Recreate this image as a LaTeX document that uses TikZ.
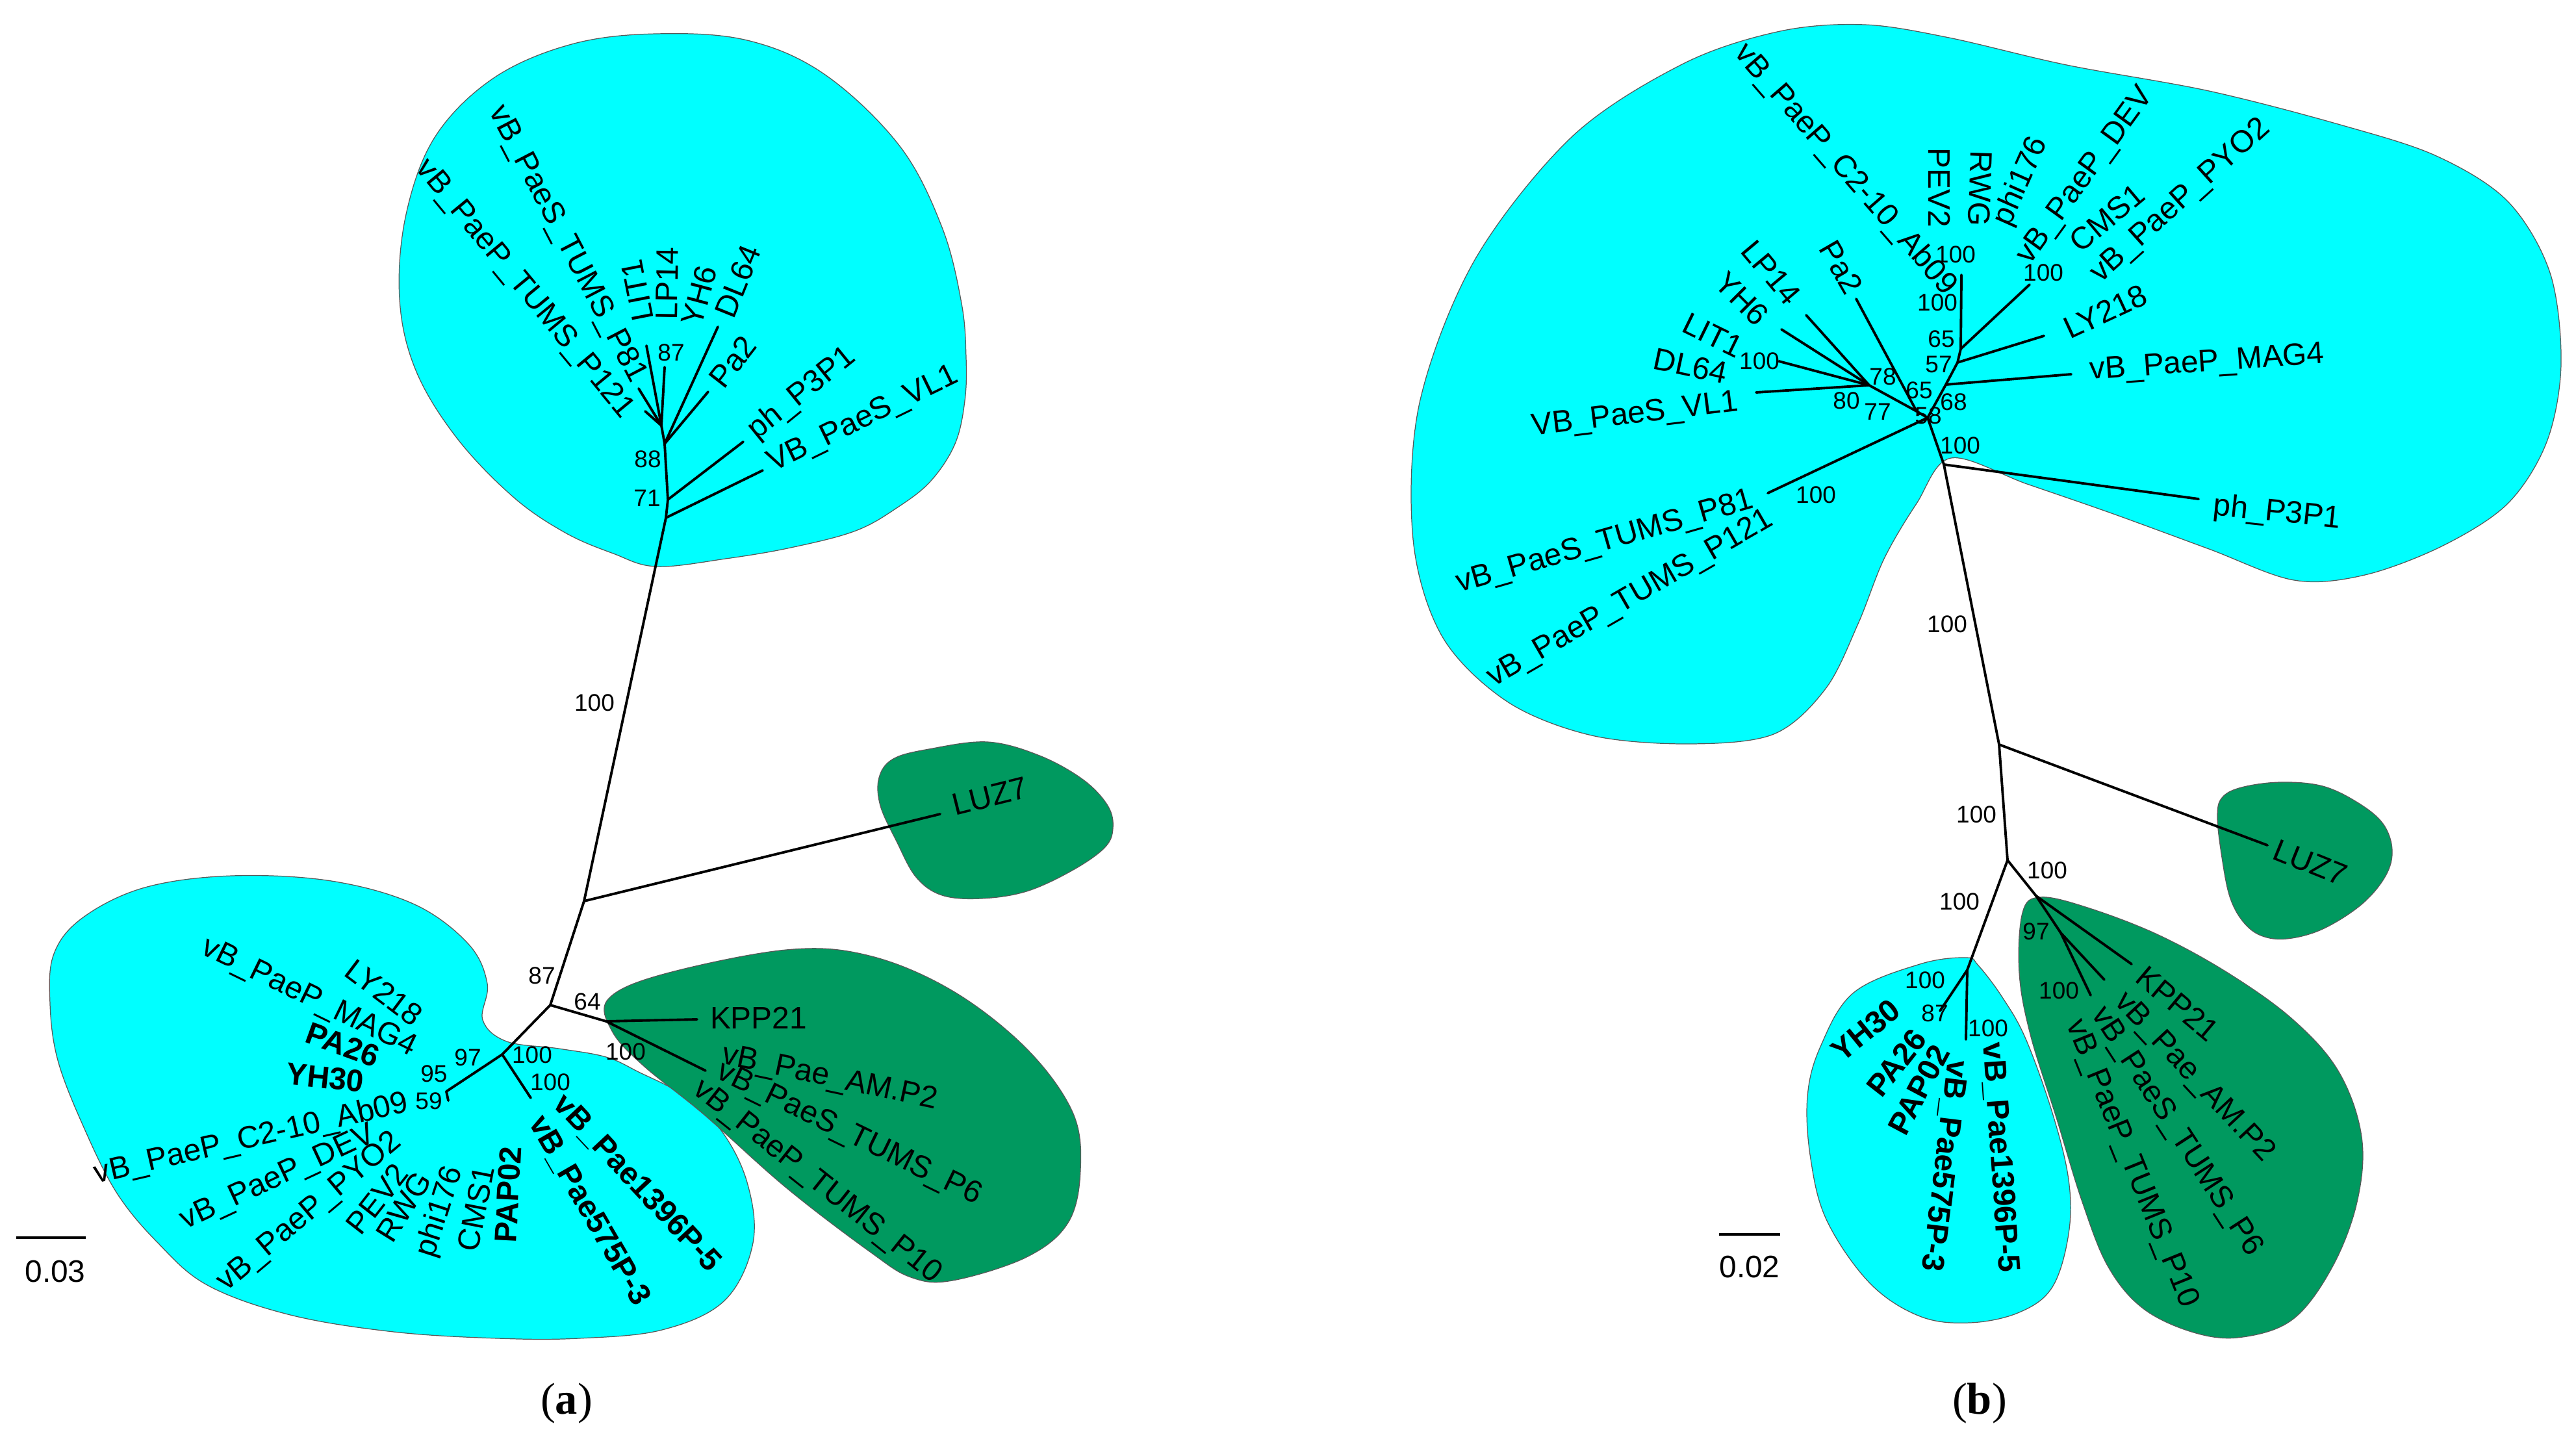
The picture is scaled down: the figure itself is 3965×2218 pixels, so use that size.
\documentclass[tikz,border=0pt]{standalone}
\usepackage{fontspec}
\setmainfont{Liberation Sans}
\newfontfamily\capfont{Liberation Serif}
\definecolor{cyanc}{RGB}{0,255,255}
\definecolor{greenc}{RGB}{0,153,95}
\begin{document}
\begin{tikzpicture}[x=0.01cm,y=-0.01cm,
 br/.style={line width=1.1pt, line cap=round, line join=round},
 lab/.style={font=\fontsize{13.6}{16}\selectfont, inner sep=0pt, outer sep=0pt},
 blab/.style={font=\fontsize{13.6}{16}\selectfont\bfseries, inner sep=0pt, outer sep=0pt},
 bs/.style={font=\fontsize{10.5}{12}\selectfont, inner sep=0pt},
 cblob/.style={fill=cyanc, draw=black!65, line width=0.35pt},
 gblob/.style={fill=greenc, draw=black!65, line width=0.35pt},
 sbar/.style={line width=1.1pt},
 capstyle/.style={font=\capfont\fontsize{19.5}{22}\selectfont, inner sep=0pt}]

\fill[white] (0,0) rectangle (3965,2218);
\useasboundingbox (0,0) rectangle (3965,2218);

% ================= PANEL (a) blobs =================
\draw[cblob] plot[smooth cycle, tension=0.6] coordinates {(1010,872) (944,852) (870,820) (790,765) (703,674) (640,570) (615,460) (625,330) (670,210) (760,120) (880,68) (1010,52) (1150,62) (1270,115) (1385,225) (1450,350) (1480,467) (1487,550) (1485,617) (1470,683) (1433,740) (1383,780) (1317,817) (1217,843) (1117,860)};
\draw[cblob] plot[smooth cycle, tension=0.6] coordinates {(743,1570) (750,1514) (721,1453) (638,1392) (510,1356) (357,1348) (223,1366) (128,1412) (83,1468) (77,1545) (89,1632) (128,1733) (179,1835) (242,1912) (319,1978) (447,2024) (606,2050) (766,2060) (891,2060) (1019,2047) (1115,2002) (1159,1913) (1150,1820) (1110,1740) (1050,1685) (983,1650) (933,1627) (860,1614) (780,1603)};
\draw[gblob] plot[smooth cycle, tension=0.6] coordinates {(936,1538) (1019,1500) (1210,1462) (1338,1471) (1466,1525) (1580,1614) (1651,1712) (1663,1801) (1644,1882) (1580,1935) (1466,1971) (1402,1966) (1338,1926) (1210,1828) (1083,1715) (990,1640) (942,1587)};
\draw[gblob] plot[smooth cycle, tension=0.6] coordinates {(1353,1197) (1375,1168) (1430,1153) (1520,1142) (1600,1163) (1667,1200) (1705,1240) (1713,1275) (1700,1305) (1650,1340) (1580,1372) (1510,1383) (1450,1378) (1410,1350) (1380,1295) (1355,1240)};

% ================= PANEL (b) blobs =================
\draw[cblob] plot[smooth cycle, tension=0.55] coordinates {(3003,705) (3120,745) (3250,790) (3400,845) (3531,893) (3640,885) (3760,840) (3860,775) (3920,680) (3942,560) (3925,420) (3860,310) (3750,240) (3602,192) (3400,140) (3181,100) (3000,58) (2870,38) (2740,48) (2591,98) (2420,210) (2270,400) (2185,620) (2175,830) (2220,980) (2320,1080) (2450,1132) (2600,1145) (2730,1130) (2810,1060) (2860,960) (2900,860) (2950,775)};
\draw[gblob] plot[smooth cycle, tension=0.6] coordinates {(3413,1258) (3420,1228) (3450,1212) (3510,1204) (3575,1210) (3630,1236) (3668,1268) (3682,1308) (3672,1348) (3635,1392) (3575,1430) (3520,1445) (3480,1440) (3452,1418) (3432,1380) (3420,1320)};
\draw[cblob] plot[smooth cycle, tension=0.6] coordinates {(3026,1474) (2955,1484) (2853,1528) (2802,1611) (2782,1688) (2787,1784) (2812,1879) (2878,1975) (2955,2026) (3032,2036) (3108,2020) (3159,1981) (3184,1899) (3184,1816) (3159,1713) (3118,1599) (3082,1535) (3045,1486)};
\draw[gblob] plot[smooth cycle, tension=0.6] coordinates {(3113,1405) (3140,1381) (3210,1396) (3320,1438) (3430,1498) (3530,1570) (3600,1650) (3635,1750) (3628,1850) (3590,1950) (3530,2030) (3452,2058) (3380,2052) (3300,2015) (3245,1950) (3205,1850) (3165,1720) (3125,1592) (3108,1497)};

% ================= PANEL (a) tree =================
\coordinate (aJ) at (899,1387);
\coordinate (aA1) at (1025,797);
\coordinate (aA2) at (1028,769);
\coordinate (aC) at (1023,683);
\coordinate (aG) at (1018,655);
\coordinate (aH) at (1023,565);
\coordinate (aVL1) at (1174,724);
\coordinate (aP3P1) at (1144,680);
\coordinate (aDL64) at (1105,503);
\coordinate (aPa2) at (1090,603);
\coordinate (aLIT1) at (995,532);
\coordinate (aP81) at (983,598);
\coordinate (aP121) at (993,633);
\coordinate (aLUZ7) at (1447,1253);
\coordinate (a87) at (847,1547);
\coordinate (a64) at (933,1572);
\coordinate (aKPP) at (1073,1569);
\coordinate (aNG) at (1086,1648);
\coordinate (aNC) at (773,1623);
\coordinate (aNB) at (817,1690);
\coordinate (aNS) at (687,1680);
\coordinate (aNS1) at (690,1694);

\draw[br] (aJ) -- (aA1);
\draw[br] (aA1) -- (aVL1);
\draw[br] (aA1) -- (aA2);
\draw[br] (aA2) -- (aP3P1);
\draw[br] (aA2) -- (aC);
\draw[br] (aC) -- (aDL64);
\draw[br] (aC) -- (aPa2);
\draw[br] (aC) -- (aG);
\draw[br] (aG) -- (aLIT1);
\draw[br] (aG) -- (aH);
\draw[br] (aG) -- (aP81);
\draw[br] (aG) -- (aP121);
\draw[br] (aJ) -- (aLUZ7);
\draw[br] (aJ) -- (a87);
\draw[br] (a87) -- (a64);
\draw[br] (a64) -- (aKPP);
\draw[br] (a64) -- (aNG);
\draw[br] (a87) -- (aNC);
\draw[br] (aNC) -- (aNB);
\draw[br] (aNC) -- (aNS);
\draw[br] (aNS) -- (aNS1);

% leaf labels (a) top
\node[lab, rotate=26, anchor=west] (tVL1) at (1185,716) {VB\_PaeS\_VL1};
\node[lab, rotate=39, anchor=west] (tP3P1) at (1158,668) {ph\_P3P1};
\node[lab, rotate=52, anchor=west] (tPa2) at (1102,590) {Pa2};
\node[lab, rotate=68, anchor=west] (tDL64) at (1114,486) {DL64};
\node[lab, rotate=75, anchor=west] (tYH6) at (1064,500) {YH6};
\node[lab, rotate=89, anchor=west] (tLP14) at (1026,492) {LP14};
\node[lab, rotate=101, anchor=west] (tLIT1) at (990,494) {LIT1};
\node[lab, rotate=-62.5, anchor=east] (tP81) at (982,586) {vB\_PaeS\_TUMS\_P81};
\node[lab, rotate=-50.5, anchor=east] (tP121) at (966,638) {vB\_PaeP\_TUMS\_P121};
% LUZ7 (a)
\node[lab, rotate=14, anchor=west] (tLUZa) at (1467,1240) {LUZ7};
% green (a)
\node[lab, anchor=west] (tKPPa) at (1093,1567) {KPP21};
\node[lab, rotate=-12, anchor=west] (tAMa) at (1112,1625) {vB\_Pae\_AM.P2};
\node[lab, rotate=-26, anchor=west] (tP6a) at (1106,1648) {vB\_PaeS\_TUMS\_P6};
\node[lab, rotate=-38.5, anchor=west] (tP10a) at (1072,1672) {vB\_PaeP\_TUMS\_P10};
% cyan bottom (a)
\node[lab, rotate=-37, anchor=east] (tLYa) at (645,1568) {LY218};
\node[lab, rotate=-26, anchor=east] (tMAGa) at (638,1615) {vB\_PaeP\_MAG4};
\node[blab, rotate=-20, anchor=east] (tPA26a) at (582,1628) {PA26};
\node[blab, rotate=-6, anchor=east] (tYH30a) at (560,1665) {YH30};
\node[lab, rotate=13, anchor=east] (tC2a) at (628,1698) {vB\_PaeP\_C2-10\_Ab09};
\node[lab, rotate=25, anchor=east] (tDEVa) at (575,1745) {vB\_PaeP\_DEV};
\node[lab, rotate=40, anchor=east] (tPYOa) at (612,1752) {vB\_PaeP\_PYO2};
\node[lab, rotate=52, anchor=east] (tPEVa) at (618,1797) {PEV2};
\node[lab, rotate=58, anchor=east] (tRWGa) at (652,1808) {RWG};
\node[lab, rotate=72, anchor=east] (tphia) at (700,1797) {phi176};
\node[lab, rotate=79, anchor=east] (tCMSa) at (745,1795) {CMS1};
\node[blab, rotate=87, anchor=east] (tPAPa) at (786,1765) {PAP02};
\node[blab, rotate=-60, anchor=west] (t575a) at (825,1722) {vB\_Pae575P-3};
\node[blab, rotate=-47, anchor=west] (t1396a) at (860,1692) {vB\_Pae1396P-5};

% bootstrap (a)
\node[bs] (ba1) at (1033,543) {87};
\node[bs] (ba2) at (997,707) {88};
\node[bs] (ba3) at (996,767) {71};
\node[bs] (ba4) at (915,1082) {100};
\node[bs] (ba5) at (834,1502) {87};
\node[bs] (ba6) at (904,1542) {64};
\node[bs] (ba7) at (963,1619) {100};
\node[bs] (ba8) at (819,1624) {100};
\node[bs] (ba9) at (847,1666) {100};
\node[bs] (ba10) at (720,1628) {97};
\node[bs] (ba11) at (668,1653) {95};
\node[bs] (ba12) at (660,1695) {59};

% scale bar (a)
\coordinate (sa1) at (25,1905);
\coordinate (sa2) at (132,1905);
\draw[sbar] (sa1) -- (sa2);
\node[lab] (sla) at (85,1957) {0.03};
\node[capstyle] (capa) at (872,2160) {(\textbf{a})};

% ================= PANEL (b) tree =================
\coordinate (bX) at (2967,643);
\coordinate (bN1) at (2877,593);
\coordinate (bN3) at (2950,633);
\coordinate (bN4) at (2995,592);
\coordinate (bN5) at (3013,558);
\coordinate (bN6) at (3018,537);
\coordinate (bV) at (3019,423);
\coordinate (bD) at (3124,438);
\coordinate (bT1) at (2992,715);
\coordinate (bJ) at (3077,1146);
\coordinate (bM) at (3090,1324);
\coordinate (bG1) at (3134,1379);
\coordinate (bG3) at (3172,1436);
\coordinate (bK1) at (3028,1493);
\coordinate (bK2) at (2986,1556);
\coordinate (bK3) at (3026,1600);
\coordinate (bVL1) at (2703,604);
\coordinate (bDL) at (2738,556);
\coordinate (bYH) at (2742,507);
\coordinate (bLP) at (2780,485);
\coordinate (bPa2) at (2857,460);
\coordinate (bMAG) at (3188,576);
\coordinate (bLY) at (3146,517);
\coordinate (bP3P1) at (3384,768);
\coordinate (bP81) at (2721,759);
\coordinate (bLUZ) at (3490,1301);
\coordinate (bKPP) at (3281,1484);
\coordinate (bAM) at (3239,1508);
\coordinate (bP6) at (3218,1532);

\draw[br] (bX) -- (bN3);
\draw[br] (bN3) -- (bN1);
\draw[br] (bN3) -- (bPa2);
\draw[br] (bN1) -- (bVL1);
\draw[br] (bN1) -- (bDL);
\draw[br] (bN1) -- (bYH);
\draw[br] (bN1) -- (bLP);
\draw[br] (bX) -- (bN4);
\draw[br] (bN4) -- (bMAG);
\draw[br] (bN4) -- (bN5);
\draw[br] (bN5) -- (bLY);
\draw[br] (bN5) -- (bN6);
\draw[br] (bN6) -- (bV);
\draw[br] (bN6) -- (bD);
\draw[br] (bX) -- (bT1);
\draw[br] (bT1) -- (bP3P1);
\draw[br] (bX) -- (bP81);
\draw[br] (bT1) -- (bJ);
\draw[br] (bJ) -- (bLUZ);
\draw[br] (bJ) -- (bM);
\draw[br] (bM) -- (bG1);
\draw[br] (bG1) -- (bKPP);
\draw[br] (bG1) -- (bG3);
\draw[br] (bG3) -- (bAM);
\draw[br] (bG3) -- (bP6);
\draw[br] (bM) -- (bK1);
\draw[br] (bK1) -- (bK2);
\draw[br] (bK1) -- (bK3);

% leaf labels (b) top
\node[lab, rotate=-49, anchor=east] (tC2b) at (3002,448) {vB\_PaeP\_C2-10\_Ab09};
\node[lab, rotate=-50, anchor=east] (tLPb) at (2762,462) {LP14};
\node[lab, rotate=-45, anchor=east] (tYHb) at (2714,493) {YH6};
\node[lab, rotate=-26, anchor=east] (tLITb) at (2680,537) {LIT1};
\node[lab, rotate=-12, anchor=east] (tDLb) at (2658,575) {DL64};
\node[lab, rotate=7, anchor=east] (tVLb) at (2675,620) {VB\_PaeS\_VL1};
\node[lab, rotate=-60, anchor=east] (tPa2b) at (2855,448) {Pa2};
\node[lab, rotate=-90, anchor=east] (tPEVb) at (2985,350) {PEV2};
\node[lab, rotate=-92, anchor=east] (tRWGb) at (3046,348) {RWG};
\node[lab, rotate=66, anchor=west] (tphib) at (3082,345) {phi176};
\node[lab, rotate=54, anchor=west] (tDEVb) at (3115,402) {vB\_PaeP\_DEV};
\node[lab, rotate=40, anchor=west] (tCMSb) at (3192,378) {CMS1};
\node[lab, rotate=42, anchor=west] (tPYOb) at (3225,428) {vB\_PaeP\_PYO2};
\node[lab, rotate=25, anchor=west] (tLYb) at (3180,508) {LY218};
\node[lab, rotate=4, anchor=west] (tMAGb) at (3217,572) {vB\_PaeP\_MAG4};
\node[lab, rotate=-6, anchor=west] (tP3P1b) at (3407,780) {ph\_P3P1};
\node[lab, rotate=16, anchor=east] (tP81b) at (2698,770) {vB\_PaeS\_TUMS\_P81};
\node[lab, rotate=30, anchor=east] (tP121b) at (2726,797) {vB\_PaeP\_TUMS\_P121};
% lower (b)
\node[lab, rotate=-22, anchor=west] (tLUZb) at (3502,1306) {LUZ7};
\node[lab, rotate=-40, anchor=west] (tKPPb) at (3295,1497) {KPP21};
\node[lab, rotate=-47, anchor=west] (tAMb) at (3262,1535) {vB\_Pae\_AM.P2};
\node[lab, rotate=-57, anchor=west] (tP6b) at (3228,1555) {vB\_PaeS\_TUMS\_P6};
\node[lab, rotate=-68, anchor=west] (tP10b) at (3192,1572) {vB\_PaeP\_TUMS\_P10};
\node[blab, rotate=39, anchor=east] (tYH30b) at (2918,1548) {YH30};
\node[blab, rotate=52, anchor=east] (tPA26b) at (2955,1590) {PA26};
\node[blab, rotate=62, anchor=east] (tPAPb) at (2988,1612) {PAP02};
\node[blab, rotate=-97, anchor=west] (t575b) at (3012,1632) {vB\_Pae575P-3};
\node[blab, rotate=-86, anchor=west] (t1396b) at (3066,1605) {vB\_Pae1396P-5};

% bootstrap (b)
\node[bs] (bb1) at (3010,392) {100};
\node[bs] (bb2) at (2982,466) {100};
\node[bs] (bb3) at (2988,522) {65};
\node[bs] (bb4) at (2984,561) {57};
\node[bs] (bb5) at (3145,420) {100};
\node[bs] (bb6) at (2898,580) {78};
\node[bs] (bb7) at (2842,617) {80};
\node[bs] (bb8) at (2890,634) {77};
\node[bs] (bb9) at (2954,601) {65};
\node[bs] (bb10) at (3007,619) {68};
\node[bs] (bb11) at (2968,640) {58};
\node[bs] (bb12) at (3017,686) {100};
\node[bs] (bb13) at (2708,556) {100};
\node[bs] (bb14) at (2795,762) {100};
\node[bs] (bb15) at (2997,961) {100};
\node[bs] (bb16) at (3042,1254) {100};
\node[bs] (bb17) at (3151,1340) {100};
\node[bs] (bb18) at (3016,1388) {100};
\node[bs] (bb19) at (2963,1509) {100};
\node[bs] (bb20) at (2978,1560) {87};
\node[bs] (bb21) at (3060,1583) {100};
\node[bs] (bb22) at (3134,1434) {97};
\node[bs] (bb23) at (3169,1525) {100};

% scale bar (b)
\coordinate (sb1) at (2646,1900);
\coordinate (sb2) at (2740,1900);
\draw[sbar] (sb1) -- (sb2);
\node[lab] (slb) at (2693,1950) {0.02};
\node[capstyle] (capb) at (3047,2160) {(\textbf{b})};
\end{tikzpicture}
\end{document}
